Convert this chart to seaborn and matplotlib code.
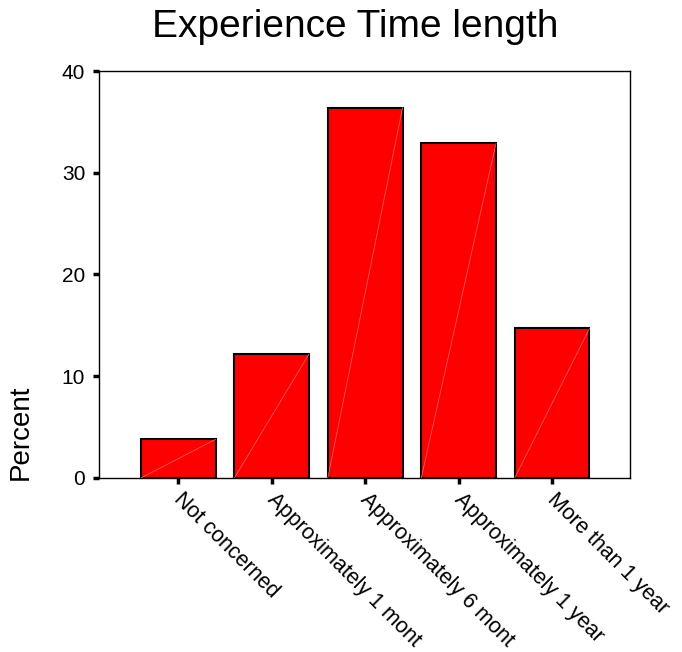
import matplotlib
matplotlib.use("Agg")
import matplotlib.pyplot as plt
import matplotlib.transforms as mtransforms
import seaborn as sns
import pandas as pd

categories = ['Not concerned', 'Approximately 1 mont', 'Approximately 6 mont',
              'Approximately 1 year', 'More than 1 year']
percent = [3.8, 12.2, 36.4, 32.9, 14.7]
yticks = [0, 10, 20, 30, 40]

df = pd.DataFrame({'cat': categories, 'Percent': percent})

sns.set_style('white')
plt.rcParams['font.family'] = ['Liberation Sans', 'DejaVu Sans']
plt.rcParams['text.color'] = 'black'
plt.rcParams['axes.labelcolor'] = 'black'
plt.rcParams['xtick.color'] = 'black'
plt.rcParams['ytick.color'] = 'black'

fig = plt.figure(figsize=(6.82, 6.52), dpi=100)
ax = fig.add_axes([0.1452, 0.2669, 0.7786, 0.6242])

sns.barplot(data=df, x='cat', y='Percent', color='#ff0000', saturation=1,
            edgecolor='black', linewidth=1.5, width=0.8, ax=ax)

# faint diagonal line inside each bar (SPSS rendering artifact)
for p in ax.patches:
    x0, y0 = p.get_x(), p.get_y()
    ax.plot([x0, x0 + p.get_width()], [y0, y0 + p.get_height()],
            color='#ff7070', lw=0.5, zorder=3)

ax.set_xlim(-0.848, len(categories) - 1 + 0.834)
ax.set_ylim(0, 40)
ax.set_yticks(yticks)
ax.set_yticklabels([str(t) for t in yticks], fontsize=15)
ax.set_xticks(range(len(categories)))
ax.set_xticklabels(categories, rotation=-45, ha='left', va='top',
                   rotation_mode='anchor', fontsize=15.5)

ax.tick_params(axis='y', direction='out', length=4, width=2.5, pad=6, left=True)
ax.tick_params(axis='x', direction='out', length=4, width=2.5, pad=4, bottom=True)

shift = mtransforms.ScaledTranslation(0.06, 0, fig.dpi_scale_trans)
for lab in ax.get_xticklabels():
    lab.set_transform(lab.get_transform() + shift)

for s in ax.spines.values():
    s.set_visible(True)
    s.set_color('black')
    s.set_linewidth(1.0)

ax.set_xlabel('')
ax.set_ylabel('Percent', fontsize=20)
ax.yaxis.set_label_coords(-0.122, 0.113)

fig.text(355 / 682, 1 - 37 / 652, 'Experience Time length', fontsize=28,
         ha='center', va='baseline')

fig.savefig('out.png', dpi=100)
